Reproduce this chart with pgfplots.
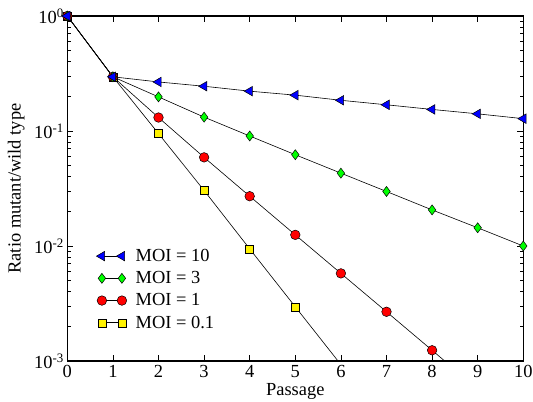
\documentclass[border=0pt]{standalone}
\usepackage{pgfplots}
\pgfplotsset{compat=1.18}
\usepackage{fontspec}
\setmainfont{Liberation Serif}
\newcommand\bigf{\fontsize{18.5}{22}\selectfont}
\begin{document}
\begin{tikzpicture}
\begin{axis}[
  scale only axis, width=456bp, height=345bp,
  ymode=log, xmin=0, xmax=10, ymin=1e-3, ymax=1,
  xtick={0,...,10},
  ytick={1e-3,1e-2,1e-1,1},
  yticklabels={10\textsuperscript{-3},10\textsuperscript{-2},10\textsuperscript{-1},10\textsuperscript{0}},
  /pgf/number format/assume math mode=true,
  tick label style={font=\bigf},
  yticklabel style={xshift=0bp},
  xticklabel style={yshift=-0.5bp},
  xlabel={Passage}, ylabel={Ratio mutant/wild type},
  every axis x label/.style={at={(axis description cs:0.5,-0.088)}, anchor=center, font=\bigf},
  every axis y label/.style={at={(axis description cs:-0.112,0.5)}, rotate=90, anchor=center, font=\bigf},
  axis line style={line width=1.3pt},
  major tick length=6bp, minor tick length=3.5bp,
  tick style={line width=0.8pt, black},
  tick align=inside,
  clip=true,
  reverse legend,
  legend style={draw=none, fill=none, at={(axis description cs:0.0634,0.3245)}, anchor=north west,
    font=\bigf, row sep=8.5bp, inner sep=0pt, column sep=9bp, nodes={inner sep=0pt}},
  legend cell align=left,
  legend image code/.code={\draw[mark repeat=2,mark phase=1,#1] plot coordinates {(0bp,0bp) (10bp,0bp) (20bp,0bp)};},
  every axis plot/.append style={black, line width=0.6pt},
]
\addplot[mark=square*, mark options={fill=yellow, draw=black, line width=0.5pt}, mark size=4bp]
  coordinates {(0,1) (1,0.296) (2,0.095) (3,0.0304) (4,0.00944) (5,0.00296) (6,0.00093)};
\addlegendentry{MOI = 0.1}
\addplot[mark=*, mark options={fill=red, draw=black, line width=0.5pt}, mark size=4.8bp]
  coordinates {(0,1) (1,0.296) (2,0.131) (3,0.059) (4,0.0271) (5,0.0125) (6,0.00578) (7,0.00268) (8,0.00124) (9,0.00057)};
\addlegendentry{MOI = 1}
\addplot[mark=diamond*, mark options={fill=green, draw=black, line width=0.5pt}, mark size=5bp]
  coordinates {(0,1) (1,0.296) (2,0.198) (3,0.132) (4,0.0905) (5,0.0622) (6,0.043) (7,0.0298) (8,0.0206) (9,0.0144) (10,0.0100)};
\addlegendentry{MOI = 3}
\addplot[mark=triangle*, mark options={rotate=90, fill=blue, draw=black, line width=0.5pt}, mark size=5.5bp]
  coordinates {(0,1) (1,0.296) (2,0.267) (3,0.245) (4,0.222) (5,0.205) (6,0.185) (7,0.169) (8,0.154) (9,0.141) (10,0.128)};
\addlegendentry{MOI = 10}
\end{axis}
\pgfresetboundingbox
\path ([xshift=-67.3bp,yshift=-41bp]current axis.south west) rectangle ([xshift=9.7bp,yshift=16bp]current axis.north east);
\end{tikzpicture}
\end{document}
